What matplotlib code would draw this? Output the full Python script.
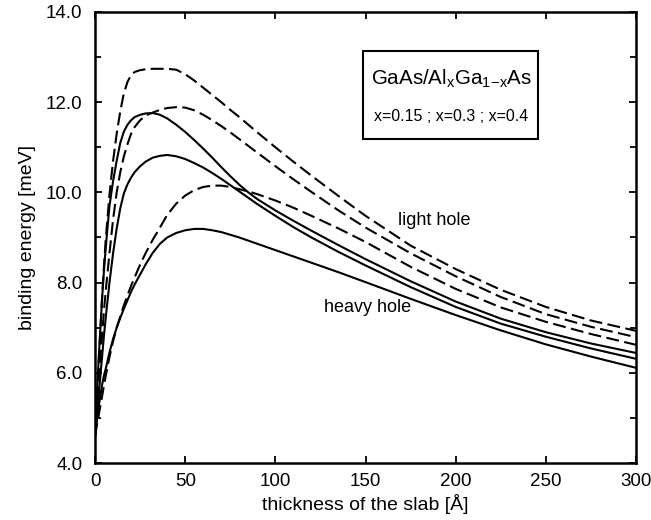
import numpy as np
import matplotlib
matplotlib.use("Agg")
import matplotlib.pyplot as plt
from matplotlib.ticker import MultipleLocator, FormatStrFormatter

plt.rcParams['font.family'] = ['Liberation Sans', 'DejaVu Sans']

# thickness grid [Å]
thickness = [0, 1, 2, 3, 4, 5, 6, 8, 10, 12, 14, 16, 18, 20, 22, 25, 28, 32, 36, 40,
             45, 50, 55, 60, 65, 70, 75, 80, 85, 90, 100, 110, 120, 135, 150, 175,
             200, 225, 250, 275, 300]

# light hole (dashed), x = 0.4, 0.3, 0.15
lh_04 = [4.6, 5.4, 6.2, 7.0, 7.75, 8.4, 9.0, 9.95, 10.7, 11.3, 11.8, 12.2, 12.45, 12.6, 12.67,
         12.71, 12.73, 12.74, 12.74, 12.74, 12.72, 12.62, 12.48, 12.32, 12.16, 12.0, 11.83,
         11.67, 11.5, 11.33, 11.0, 10.68, 10.37, 9.92, 9.48, 8.82, 8.3, 7.84, 7.46, 7.16, 6.93]
lh_03 = [4.6, 5.2, 5.8, 6.35, 6.9, 7.4, 7.85, 8.65, 9.4, 10.0, 10.45, 10.8, 11.07, 11.3, 11.45,
         11.6, 11.7, 11.77, 11.83, 11.87, 11.89, 11.88, 11.82, 11.72, 11.6, 11.47, 11.33,
         11.18, 11.03, 10.88, 10.58, 10.29, 10.01, 9.6, 9.22, 8.65, 8.14, 7.68, 7.3, 7.02, 6.79]
lh_015 = [4.6, 4.83, 5.05, 5.28, 5.5, 5.73, 5.95, 6.35, 6.7, 7.0, 7.25, 7.5, 7.72, 7.93, 8.12,
          8.4, 8.65, 8.95, 9.22, 9.5, 9.75, 9.93, 10.05, 10.12, 10.15, 10.15, 10.12, 10.07,
          10.02, 9.96, 9.82, 9.66, 9.48, 9.2, 8.9, 8.35, 7.86, 7.45, 7.13, 6.86, 6.62]

# heavy hole (solid), x = 0.4, 0.3, 0.15
hh_04 = [4.6, 5.5, 6.3, 7.0, 7.7, 8.3, 8.8, 9.7, 10.25, 10.7, 11.1, 11.35, 11.5, 11.6, 11.67,
         11.72, 11.75, 11.76, 11.72, 11.64, 11.5, 11.34, 11.16, 10.97, 10.77, 10.56, 10.36,
         10.17, 10.0, 9.85, 9.6, 9.37, 9.15, 8.83, 8.52, 8.03, 7.58, 7.2, 6.9, 6.65, 6.44]
hh_03 = [4.6, 5.03, 5.48, 5.95, 6.4, 6.85, 7.25, 8.0, 8.65, 9.2, 9.65, 9.98, 10.18, 10.33, 10.45,
         10.58, 10.68, 10.77, 10.81, 10.83, 10.8, 10.74, 10.65, 10.55, 10.43, 10.3, 10.16,
         10.02, 9.88, 9.74, 9.48, 9.23, 9.0, 8.68, 8.38, 7.9, 7.46, 7.09, 6.8, 6.54, 6.31]
hh_015 = [4.6, 4.95, 5.25, 5.5, 5.75, 5.95, 6.1, 6.45, 6.75, 7.0, 7.22, 7.42, 7.61, 7.8, 7.96,
          8.18, 8.4, 8.66, 8.86, 9.0, 9.1, 9.16, 9.19, 9.19, 9.16, 9.12, 9.06, 9.0, 8.93,
          8.86, 8.72, 8.58, 8.44, 8.23, 8.01, 7.64, 7.28, 6.94, 6.63, 6.36, 6.11]

xticks = [0, 50, 100, 150, 200, 250, 300]
yticks = [4.0, 6.0, 8.0, 10.0, 12.0, 14.0]

fig = plt.figure(figsize=(6.51, 5.20), dpi=100)
ax = fig.add_axes([0.146, 0.1096, 0.977 - 0.146, 0.977 - 0.1096])

dash = (0, (6.2, 2.6))
for y in (lh_04, lh_03, lh_015):
    ax.plot(thickness, y, color='black', lw=1.5, linestyle=dash)
for y in (hh_04, hh_03, hh_015):
    ax.plot(thickness, y, color='black', lw=1.5, linestyle='-')

ax.set_xlim(0, 300)
ax.set_ylim(4.0, 14.0)
ax.set_xticks(xticks)
ax.set_yticks(yticks)
ax.yaxis.set_minor_locator(MultipleLocator(1.0))
ax.yaxis.set_major_formatter(FormatStrFormatter('%.1f'))
ax.tick_params(which='both', direction='in', top=True, right=True, labelsize=13.5,
               width=1.3)
ax.tick_params(which='major', length=5)
ax.tick_params(which='minor', length=4)
ax.tick_params(axis='y', pad=9)
ax.tick_params(axis='x', pad=7)
for s in ax.spines.values():
    s.set_linewidth(1.8)

ax.set_xlabel('thickness of the slab [Å]', fontsize=14, labelpad=3)
ax.set_ylabel('binding energy [meV]', fontsize=14, labelpad=7)

ax.text(188, 9.37, 'light hole', fontsize=13, ha='center', va='center')
ax.text(151, 7.45, 'heavy hole', fontsize=13, ha='center', va='center')

ax.add_patch(plt.Rectangle((148.6, 11.18), 97.1, 1.96, fill=False, lw=1.5, color='black'))
ax.text(197.5, 12.53, r'GaAs/Al$_\mathregular{x}$Ga$_\mathregular{1\!-\!x}$As', fontsize=14.8,
        ha='center', va='center')
ax.text(197.5, 11.69, 'x=0.15 ; x=0.3 ; x=0.4', fontsize=11.5, ha='center', va='center')

fig.savefig('out.png', dpi=100)
